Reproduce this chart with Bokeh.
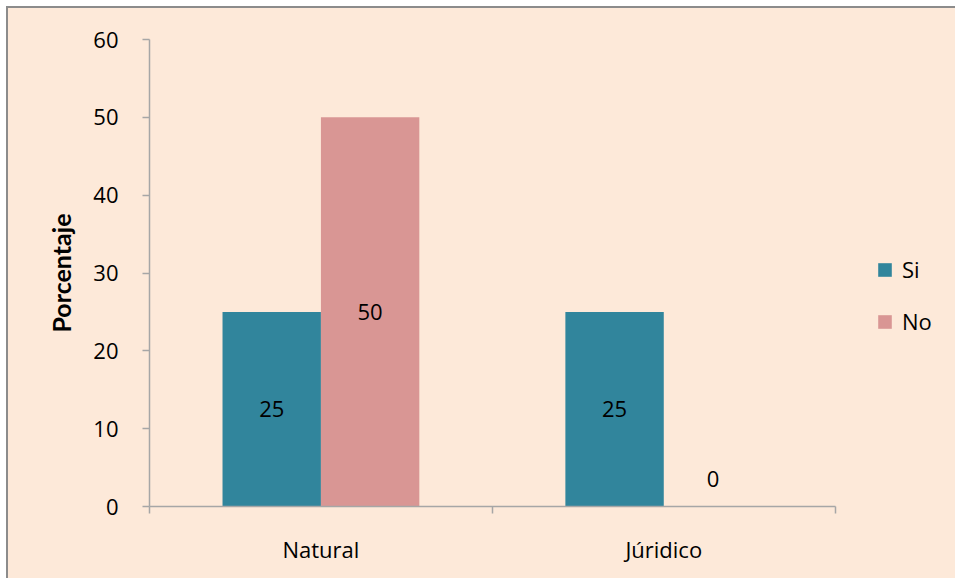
from bokeh.plotting import figure
from bokeh.models import (Range1d, FixedTicker, Legend, LegendItem, ColumnDataSource)
from bokeh.core.properties import value
from bokeh.embed import file_html
from bokeh.resources import INLINE

categories = ["Natural", "Júridico"]
si = [25, 25]
no = [50, 0]
series_names = ["Si", "No"]
y_ticks = [0, 10, 20, 30, 40, 50, 60]

BG = "#FDE9D9"
TEAL = "#31859C"
PINK = "#D99694"
AX = "#A6A6A6"
FONT = "Open Sans"

W, H = 949, 572
LEFT = 141
CAT_PX = 342            # pixel width of one category slot
n = len(categories)
x_end = (W - 2 - LEFT) / CAT_PX

p = figure(width=W, height=H, output_backend="svg", toolbar_location=None,
           x_range=Range1d(0, x_end), y_range=Range1d(0, 60),
           min_border_left=LEFT, min_border_right=0, min_border_top=31,
           min_border_bottom=74)
p.background_fill_color = None
p.border_fill_color = BG
p.outline_line_color = None
p.grid.visible = False
p.styles = {"margin-left": "6px", "margin-top": "6px",
            "border-left": "2px solid #8c8c8c", "border-top": "2px solid #8c8c8c",
            "box-sizing": "border-box", "background-color": BG}

bw = 0.287
centers = [i + 0.5 for i in range(n)]
src_si = ColumnDataSource(dict(x=[c - bw / 2 for c in centers], top=si,
                               ly=[v / 2 for v in si], lbl=[str(v) for v in si]))
src_no = ColumnDataSource(dict(x=[c + bw / 2 for c in centers], top=no,
                               ly=[v / 2 if v else 3.5 for v in no], lbl=[str(v) for v in no]))
r_si = p.vbar(x="x", top="top", bottom=0, width=bw, source=src_si,
              fill_color=TEAL, line_color=None)
r_no = p.vbar(x="x", top="top", bottom=0, width=bw, source=src_no,
              fill_color=PINK, line_color=None)
for s in (src_si, src_no):
    p.text(x="x", y="ly", text="lbl", source=s, text_align="center",
           text_baseline="middle", text_font=value(FONT), text_font_size="22px",
           text_color="black")

# y axis
ya = p.yaxis[0]
ya.ticker = FixedTicker(ticks=y_ticks, minor_ticks=[])
ya.axis_line_color = AX
ya.axis_line_width = 1.5
ya.major_tick_line_color = AX
ya.major_tick_line_width = 1.5
ya.major_tick_out = 7
ya.major_tick_in = 0
ya.minor_tick_line_color = None
ya.major_label_text_font = FONT
ya.major_label_text_font_size = "22px"
ya.major_label_text_color = "black"
ya.major_label_standoff = 24
ya.axis_label = "Porcentaje"
ya.axis_label_text_font = "Lato"
ya.axis_label_text_font_style = "bold"
ya.axis_label_text_font_size = "25px"
ya.axis_label_text_color = "black"
ya.axis_label_standoff = 14

# x axis
xa = p.xaxis[0]
xa.bounds = (0, n)
xa.ticker = FixedTicker(ticks=centers, minor_ticks=list(range(n + 1)))
xa.major_label_overrides = {c: nm for c, nm in zip(centers, categories)}
xa.axis_line_color = AX
xa.axis_line_width = 1.5
xa.major_tick_line_color = None
xa.minor_tick_line_color = AX
xa.minor_tick_line_width = 1.5
xa.minor_tick_out = 7
xa.minor_tick_in = 0
xa.major_label_text_font = FONT
xa.major_label_text_font_size = "22px"
xa.major_label_text_color = "black"
xa.major_label_standoff = 20

legend = Legend(items=[LegendItem(label=series_names[0], renderers=[r_si]),
                       LegendItem(label=series_names[1], renderers=[r_no])],
                location=(727, 170), padding=0, margin=0, spacing=22,
                glyph_width=17, glyph_height=17, label_height=22,
                label_text_font=FONT, label_text_font_size="22px",
                label_text_color="black", label_standoff=9,
                background_fill_alpha=0, border_line_color=None)
p.add_layout(legend, "center")

open("out.html", "w").write(file_html(p, INLINE))
